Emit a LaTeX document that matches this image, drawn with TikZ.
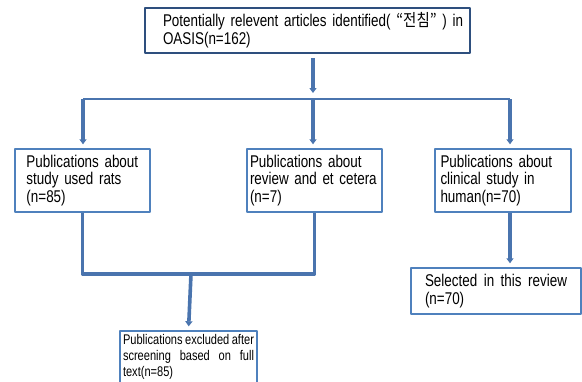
\documentclass[tikz,border=0pt]{standalone}
\usepackage{fontspec}
\setmainfont[FakeStretch=0.79]{Liberation Sans}
\newfontfamily\kor[FakeStretch=0.85]{Noto Sans CJK KR}
\usetikzlibrary{arrows.meta}
\hyphenpenalty=10000
\definecolor{boxblue}{HTML}{4F81BD}
\definecolor{topblue}{HTML}{2E4F7E}
\definecolor{linkblue}{HTML}{4A74AE}
\tikzset{
  box/.style = {draw = boxblue, line width = 1.4pt, fill = white, inner sep = 0pt,
    font = \fontsize{17}{17.7}\selectfont, align = justify},
  link/.style = {draw = linkblue, line width = 3.2pt},
  flow/.style = {link, line width = 3.6pt, -{Triangle[length=5pt, width=7pt]}, shorten > = 4pt}
}
\begin{document}
\begin{tikzpicture}[x = 1pt, y = -1pt, line join = round]
				\useasboundingbox (0,0) rectangle (582,381);
				% boxes
				\node[box, align = center, draw = topblue, line width = 2.2pt, minimum width = 325pt, minimum height = 45pt] (top) at (307.5,30.5)
				{\hspace*{11pt}\parbox[c]{300pt}{Potentially relevent articles identified( {\kor “전침”} ) in\linebreak OASIS(n=162)}};
				\node[box, align = left, minimum width = 135pt, minimum height = 63pt, text width = 112pt] (rats) at (82.5,180.5)
				{Publications about\\ study used rats\\ (n=85)};
				\node[box, align = left, minimum width = 135pt, minimum height = 63pt, text width = 129pt] (review) at (314.5,180.5)
				{Publications about\\ review and et cetera\\ (n=7)};
				\node[box, align = left, minimum width = 136pt, minimum height = 63pt, text width = 125pt] (human) at (503,180.5)
				{Publications about\\ clinical study in\\ human(n=70)};
				\node[box, minimum width = 170pt, minimum height = 46pt, text width = 142pt] (selected) at (496,291)
				{Selected in this review\linebreak (n=70)};
				\node[box, font = \fontsize{14}{16}\selectfont, minimum width = 137pt, minimum height = 52pt, text width = 131pt] (excluded) at (188.5,357)
				{Publications excluded after\linebreak screening based on full\linebreak text(n=85)};
				% junctions
				\coordinate (split) at (313,99);
				\coordinate (hl) at (83,99);
				\coordinate (hr) at (510,99);
				\coordinate (merge) at (191,274);
				% connectors
				\draw[flow, shorten > = 6pt] (top.south -| split) ++(0,4) -- (split);
				\draw[link, line width = 2.6pt] (hl) -- (hr);
				\draw[flow] (hl) -- (hl |- rats.north);
				\draw[flow] (split) -- (split |- review.north);
				\draw[flow] (hr) -- (hr |- human.north);
				\draw[link] (rats.south) |- (merge) -| (review.south);
				\draw[flow] (merge) -- (excluded.north);
				\draw[flow] (human.south -| hr) -- (selected.north -| hr);
\end{tikzpicture}
\end{document}
